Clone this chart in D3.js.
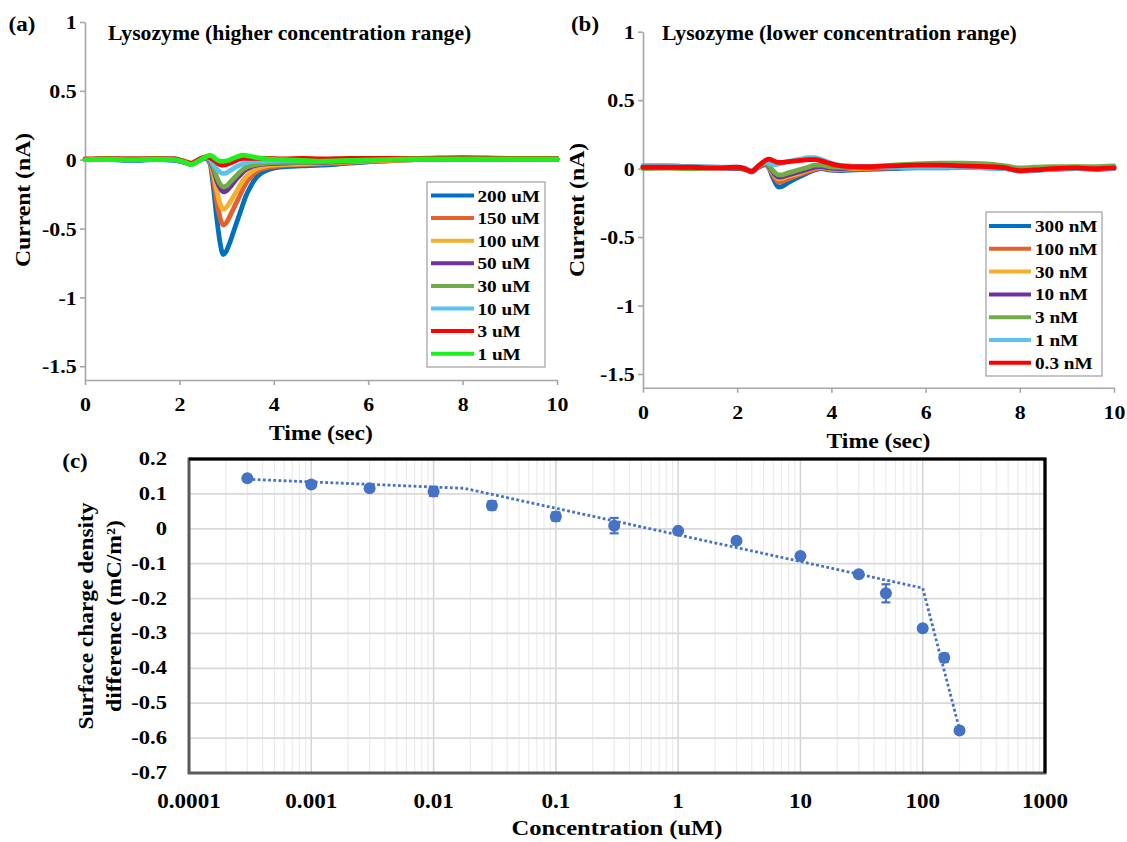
<!DOCTYPE html>
<html><head><meta charset="utf-8">
<script src="https://cdn.jsdelivr.net/npm/d3@7"></script>
<style>
body{margin:0;background:#fff;}
svg{display:block;}
text{font-family:"Liberation Serif","Times New Roman",serif;font-weight:bold;fill:#000;}
</style></head><body>
<svg id="chart" width="1127" height="842"></svg>
<script>
// ---------- Panel (a) data: time (s) and current (nA) ----------
const timeA = [0, 0.5, 1, 1.5, 1.9, 2.1, 2.25, 2.4, 2.55, 2.65, 2.72, 2.79, 2.86, 2.93, 3.0, 3.07, 3.14, 3.21, 3.28, 3.35, 3.42, 3.5, 3.64, 3.85, 4.2, 4.6, 5.0, 5.6, 6.3, 7, 8, 9, 10];
const a200 = [0, 0, -0.005, 0, -0.005, -0.02, -0.035, -0.01, 0.01, -0.03, -0.2, -0.42, -0.6, -0.69, -0.66, -0.6, -0.53, -0.46, -0.39, -0.32, -0.255, -0.2, -0.125, -0.076, -0.052, -0.045, -0.04, -0.025, -0.01, 0, 0.005, 0, 0];
const a150 = [0, 0.005, 0, 0.005, 0, -0.015, -0.03, -0.005, 0.015, -0.02, -0.14, -0.3, -0.42, -0.475, -0.455, -0.41, -0.36, -0.31, -0.26, -0.21, -0.165, -0.13, -0.085, -0.058, -0.042, -0.035, -0.03, -0.02, -0.01, 0, 0.005, 0, 0.005];
const a100 = [0, 0, 0.005, 0, 0, -0.015, -0.03, -0.005, 0.015, -0.015, -0.1, -0.22, -0.32, -0.36, -0.345, -0.31, -0.27, -0.23, -0.19, -0.15, -0.12, -0.095, -0.065, -0.045, -0.035, -0.03, -0.025, -0.015, -0.005, 0, 0, 0.005, 0];
const a50 = [0, 0.005, 0, 0, 0.005, -0.015, -0.03, -0.005, 0.015, -0.01, -0.07, -0.15, -0.205, -0.233, -0.225, -0.2, -0.17, -0.14, -0.115, -0.09, -0.07, -0.055, -0.04, -0.03, -0.025, -0.02, -0.02, -0.01, 0, 0, 0.005, 0, 0];
const a30 = [0, 0, 0.005, 0, 0, -0.015, -0.03, -0.005, 0.015, -0.005, -0.055, -0.125, -0.175, -0.197, -0.19, -0.165, -0.14, -0.115, -0.09, -0.07, -0.055, -0.045, -0.035, -0.025, -0.02, -0.02, -0.015, -0.01, 0, 0.005, 0, 0.005, 0];
const a10 = [0, 0, 0, 0.005, 0, -0.015, -0.03, -0.005, 0.015, 0.005, -0.03, -0.065, -0.09, -0.1, -0.095, -0.08, -0.065, -0.05, -0.04, -0.03, -0.02, -0.015, -0.01, -0.01, -0.005, -0.005, 0, 0, 0.01, 0.005, 0.01, 0.005, 0.01];
const a3 = [0.005, 0.01, 0.005, 0.01, 0.005, -0.01, -0.025, 0, 0.02, 0.015, 0, -0.02, -0.035, -0.04, -0.035, -0.025, -0.015, -0.005, 0.005, 0.01, 0.01, 0.01, 0.01, 0.01, 0.005, 0.01, 0.005, 0.01, 0.01, 0.01, 0.015, 0.01, 0.01];
const a1 = [0, 0.005, 0, 0.005, 0, -0.015, -0.035, -0.01, 0.02, 0.032, 0.02, 0, -0.01, -0.012, -0.008, 0, 0.01, 0.02, 0.028, 0.033, 0.03, 0.025, 0.015, 0.005, 0, -0.005, -0.01, -0.005, 0, 0.005, 0.005, 0.005, 0.005];
const labelsA = ["200 uM", "150 uM", "100 uM", "50 uM", "30 uM", "10 uM", "3 uM", "1 uM"];

// ---------- Panel (b) data ----------
const timeB = [0, 0.5, 1, 1.5, 2.0, 2.15, 2.3, 2.45, 2.6, 2.68, 2.75, 2.82, 2.88, 2.95, 3.05, 3.2, 3.35, 3.5, 3.65, 3.8, 3.95, 4.1, 4.4, 4.8, 5.3, 5.8, 6.3, 6.8, 7.3, 7.7, 8.0, 8.3, 8.7, 9.2, 9.6, 10];
const b300 = [0.02, 0.02, 0.015, 0.01, 0.005, 0, -0.025, 0.01, 0.03, 0, -0.06, -0.11, -0.135, -0.13, -0.11, -0.08, -0.055, -0.03, -0.01, 0, -0.01, -0.015, -0.01, -0.005, 0, 0.005, 0.005, 0.01, 0.005, 0, -0.015, -0.01, -0.005, 0, -0.005, 0];
const b100 = [0.01, 0.01, 0.01, 0.005, 0.005, 0, -0.02, 0.01, 0.03, 0.005, -0.04, -0.08, -0.1, -0.095, -0.08, -0.06, -0.04, -0.02, -0.005, 0.005, -0.005, -0.01, -0.005, 0, 0.005, 0.01, 0.01, 0.015, 0.01, 0.005, -0.01, -0.005, 0, 0.005, 0, 0.005];
const b30 = [0.01, 0.005, 0.01, 0.005, 0.005, 0, -0.02, 0.01, 0.035, 0.01, -0.03, -0.06, -0.075, -0.072, -0.06, -0.045, -0.03, -0.01, 0.005, 0.01, 0, -0.005, 0, 0.005, 0.01, 0.015, 0.015, 0.02, 0.015, 0.01, -0.005, 0, 0.005, 0.01, 0.005, 0.01];
const b10 = [0.005, 0.005, 0.005, 0.005, 0, -0.005, -0.02, 0.01, 0.035, 0.015, -0.02, -0.05, -0.062, -0.06, -0.05, -0.035, -0.02, -0.005, 0.01, 0.015, 0.005, 0, 0.005, 0.01, 0.01, 0.015, 0.02, 0.02, 0.02, 0.01, -0.005, 0, 0.005, 0.01, 0.005, 0.01];
const b3 = [0, 0.005, 0, 0.005, 0.005, 0, -0.02, 0.015, 0.04, 0.02, -0.01, -0.035, -0.045, -0.045, -0.035, -0.02, -0.005, 0.01, 0.025, 0.025, 0.015, 0.01, 0.01, 0.015, 0.025, 0.035, 0.04, 0.04, 0.035, 0.02, 0.005, 0.01, 0.015, 0.015, 0.015, 0.02];
const b1 = [0.02, 0.02, 0.015, 0.01, 0.01, 0.005, -0.015, 0.02, 0.05, 0.04, 0.03, 0.03, 0.035, 0.04, 0.05, 0.06, 0.07, 0.08, 0.08, 0.065, 0.045, 0.03, 0.02, 0.015, 0.01, 0.01, 0.01, 0.01, 0.005, 0, -0.02, -0.015, -0.005, 0, 0, 0];
const b03 = [0.01, 0.01, 0.01, 0.005, 0.01, 0, -0.02, 0.02, 0.06, 0.07, 0.06, 0.05, 0.045, 0.045, 0.05, 0.055, 0.06, 0.065, 0.065, 0.055, 0.04, 0.025, 0.015, 0.015, 0.02, 0.025, 0.025, 0.02, 0.015, 0.005, -0.015, -0.01, 0, 0.005, 0, 0.005];
const labelsB = ["300 nM", "100 nM", "30 nM", "10 nM", "3 nM", "1 nM", "0.3 nM"];

const traceColors = ["#0070C0", "#E5602A", "#F3B02E", "#7030A0", "#70AD47", "#5AC3F0", "#FF0000", "#1EF01E"];
const timeTicks = [0, 2, 4, 6, 8, 10];
const currentTicks = [-1.5, -1, -0.5, 0, 0.5, 1];

// ---------- Panel (c) data ----------
const concC = [0.0003, 0.001, 0.003, 0.01, 0.03, 0.1, 0.3, 1, 3, 10, 30, 50, 100, 150, 200];
const sigmaC = [0.145, 0.127, 0.116, 0.107, 0.067, 0.035, 0.009, -0.006, -0.034, -0.078, -0.13, -0.185, -0.285, -0.37, -0.578];
const errC = [0.004, 0.006, 0.004, 0.013, 0.012, 0.012, 0.022, 0.004, 0.004, 0.005, 0.005, 0.026, 0.005, 0.012, 0.008];
const trendConc = [0.0003, 0.0178, 100, 200];
const trendSigma = [0.142, 0.116, -0.170, -0.575];
const concTicks = [0.0001, 0.001, 0.01, 0.1, 1, 10, 100, 1000];
const concTickLabels = ["0.0001", "0.001", "0.01", "0.1", "1", "10", "100", "1000"];
const sigmaTicks = [0.2, 0.1, 0, -0.1, -0.2, -0.3, -0.4, -0.5, -0.6, -0.7];

// ---------- helpers ----------
const svg = d3.select("#chart");
svg.append("rect").attr("width", 1127).attr("height", 842).attr("fill", "#fff");

function label(g, x, y, str, size, opt = {}) {
  const rot = opt.rotate ? ` rotate(${opt.rotate})` : "";
  return g.append("text")
    .attr("transform", `translate(${x},${y})${rot} scale(${opt.sx || 1.12},1)`)
    .attr("font-size", size)
    .attr("text-anchor", opt.anchor || "start")
    .text(str);
}

function tracePanel(cfg) {
  const g = svg.append("g");
  const x = d3.scaleLinear().domain([0, 10]).range([cfg.x0, cfg.x1]);
  const y = d3.scaleLinear().domain([-1.6, 1]).range([cfg.yBot, cfg.yTop]);
  const axisCol = "#a6a6a6";

  const gy = g.append("g").attr("transform", `translate(${cfg.x0},0)`)
    .call(d3.axisLeft(y).tickValues(currentTicks).tickSize(5).tickSizeOuter(0).tickPadding(6).tickFormat(d => String(d)));
  const gx = g.append("g").attr("transform", `translate(0,${cfg.yBot})`)
    .call(d3.axisBottom(x).tickValues(timeTicks).tickSize(5).tickSizeOuter(0).tickPadding(12).tickFormat(d => String(d)));
  [gx, gy].forEach(a => {
    a.select(".domain").attr("stroke", axisCol).attr("stroke-width", 1.6);
    a.selectAll(".tick line").attr("stroke", axisCol).attr("stroke-width", 1.6);
    a.selectAll(".tick text").attr("font-size", 19.5).attr("fill", "#000")
      .attr("transform", "scale(1.12,1)");
  });
  gy.selectAll(".tick text").attr("x", -7.5).attr("dy", "0.34em");

  const line = d3.line().x(d => x(d[0])).y(d => y(d[1])).curve(d3.curveMonotoneX);
  cfg.series.forEach((vals, i) => {
    const pts = cfg.times.map((t, k) => [t, vals[k]]);
    g.append("path").attr("d", line(pts)).attr("fill", "none")
      .attr("stroke", traceColors[i]).attr("stroke-width", 4.8)
      .attr("stroke-linejoin", "round").attr("stroke-linecap", "round");
  });

  // legend
  const L = cfg.legend;
  const lg = g.append("g");
  lg.append("rect").attr("x", L.x).attr("y", L.y).attr("width", L.w).attr("height", L.h)
    .attr("fill", "#fff").attr("stroke", "#a6a6a6").attr("stroke-width", 1.3);
  cfg.labels.forEach((lab, i) => {
    const cy = L.row0 + i * L.step;
    lg.append("line").attr("x1", L.lx0).attr("x2", L.lx1).attr("y1", cy).attr("y2", cy)
      .attr("stroke", traceColors[i]).attr("stroke-width", 4);
    label(lg, L.tx, cy + 6, lab, 17.5, { sx: 1.1 });
  });

  label(g, cfg.tagX, 31, cfg.tag, 20, { anchor: "middle", sx: 1.15 });
  label(g, cfg.titleX, 40, cfg.title, 20.5, { sx: 1.06 });
  label(g, (cfg.x0 + cfg.x1) / 2, cfg.yBot + 60, "Time (sec)", 21.5, { anchor: "middle", sx: 1.1 });
  label(g, cfg.yTitleX, cfg.yTitleY, "Current (nA)", 21.5, { anchor: "middle", rotate: -90, sx: 1.1 });
}

tracePanel({
  x0: 85, x1: 557, yTop: 22, yBot: 380, times: timeA,
  series: [a200, a150, a100, a50, a30, a10, a3, a1], labels: labelsA,
  legend: { x: 427, y: 182, w: 118, h: 185, row0: 195.5, step: 22.6, lx0: 431, lx1: 474, tx: 477.5 },
  tag: "(a)", tagX: 22, title: "Lysozyme (higher concentration range)", titleX: 108,
  yTitleX: 30, yTitleY: 200
});
tracePanel({
  x0: 643, x1: 1114, yTop: 31.7, yBot: 387.7, times: timeB,
  series: [b300, b100, b30, b10, b3, b1, b03], labels: labelsB,
  legend: { x: 986, y: 212, w: 116, h: 164, row0: 226, step: 22.8, lx0: 989, lx1: 1031, tx: 1035 },
  tag: "(b)", tagX: 585, title: "Lysozyme (lower concentration range)", titleX: 662,
  yTitleX: 584, yTitleY: 210
});

// ---------- Panel (c) ----------
(function () {
  const g = svg.append("g");
  const X0 = 189, X1 = 1045, Y0 = 459, Y1 = 773;
  const x = d3.scaleLog().domain([1e-4, 1e3]).range([X0, X1]);
  const y = d3.scaleLinear().domain([-0.7, 0.2]).range([Y1, Y0]);
  const blue = "#4472C4";

  const vt = x.ticks();
  const isMajor = v => Math.abs(Math.log10(v) - Math.round(Math.log10(v))) < 1e-6;
  g.selectAll(".vminor").data(vt.filter(v => !isMajor(v))).join("line")
    .attr("x1", d => x(d)).attr("x2", d => x(d)).attr("y1", Y0).attr("y2", Y1)
    .attr("stroke", "#ececec").attr("stroke-width", 1.2);
  g.selectAll(".vmajor").data(concTicks).join("line")
    .attr("x1", d => x(d)).attr("x2", d => x(d)).attr("y1", Y0).attr("y2", Y1)
    .attr("stroke", "#d4d4d4").attr("stroke-width", 1.5);
  g.selectAll(".hgrid").data(sigmaTicks).join("line")
    .attr("x1", X0).attr("x2", X1).attr("y1", d => y(d)).attr("y2", d => y(d))
    .attr("stroke", "#d9d9d9").attr("stroke-width", 1.8);

  g.append("rect").attr("x", X0).attr("y", Y0).attr("width", X1 - X0).attr("height", Y1 - Y0)
    .attr("fill", "none").attr("stroke", "#5a5a5a").attr("stroke-width", 3);
  g.append("path").attr("d", `M${X0},${Y0}H${X1}V${Y1}`).attr("fill", "none")
    .attr("stroke", "#000").attr("stroke-width", 3);

  concTicks.forEach((v, i) => label(g, x(v), 808, concTickLabels[i], 21, { anchor: "middle", sx: 1.1 }));
  sigmaTicks.forEach(v => label(g, 167, y(v) + 6, String(Math.round(v * 10) / 10), 18.5, { anchor: "end", sx: 1.22 }));

  const tl = d3.line().x(d => x(d[0])).y(d => y(d[1]));
  g.append("path").attr("d", tl(trendConc.map((c, i) => [c, trendSigma[i]])))
    .attr("fill", "none").attr("stroke", blue).attr("stroke-width", 2.8)
    .attr("stroke-dasharray", "2.8,2.4");

  concC.forEach((c, i) => {
    const cx = x(c), yt = y(sigmaC[i] + errC[i]), yb = y(sigmaC[i] - errC[i]);
    g.append("line").attr("x1", cx).attr("x2", cx).attr("y1", yt).attr("y2", yb).attr("stroke", blue).attr("stroke-width", 2);
    [yt, yb].forEach(yy => g.append("line").attr("x1", cx - 4.5).attr("x2", cx + 4.5).attr("y1", yy).attr("y2", yy).attr("stroke", blue).attr("stroke-width", 2.2));
  });
  g.selectAll(".pt").data(concC.map((c, i) => [c, sigmaC[i]])).join("circle")
    .attr("cx", d => x(d[0])).attr("cy", d => y(d[1])).attr("r", 6).attr("fill", blue);

  label(g, 75, 468, "(c)", 20, { anchor: "middle", sx: 1.15 });
  label(g, (X0 + X1) / 2, 835, "Concentration (uM)", 20.5, { anchor: "middle", sx: 1.2 });
  label(g, 93, 616, "Surface charge density", 20.5, { anchor: "middle", rotate: -90, sx: 1.14 });
  label(g, 121, 616, "difference (mC/m\u00B2)", 20.5, { anchor: "middle", rotate: -90, sx: 1.15 });
})();
</script>
</body></html>
